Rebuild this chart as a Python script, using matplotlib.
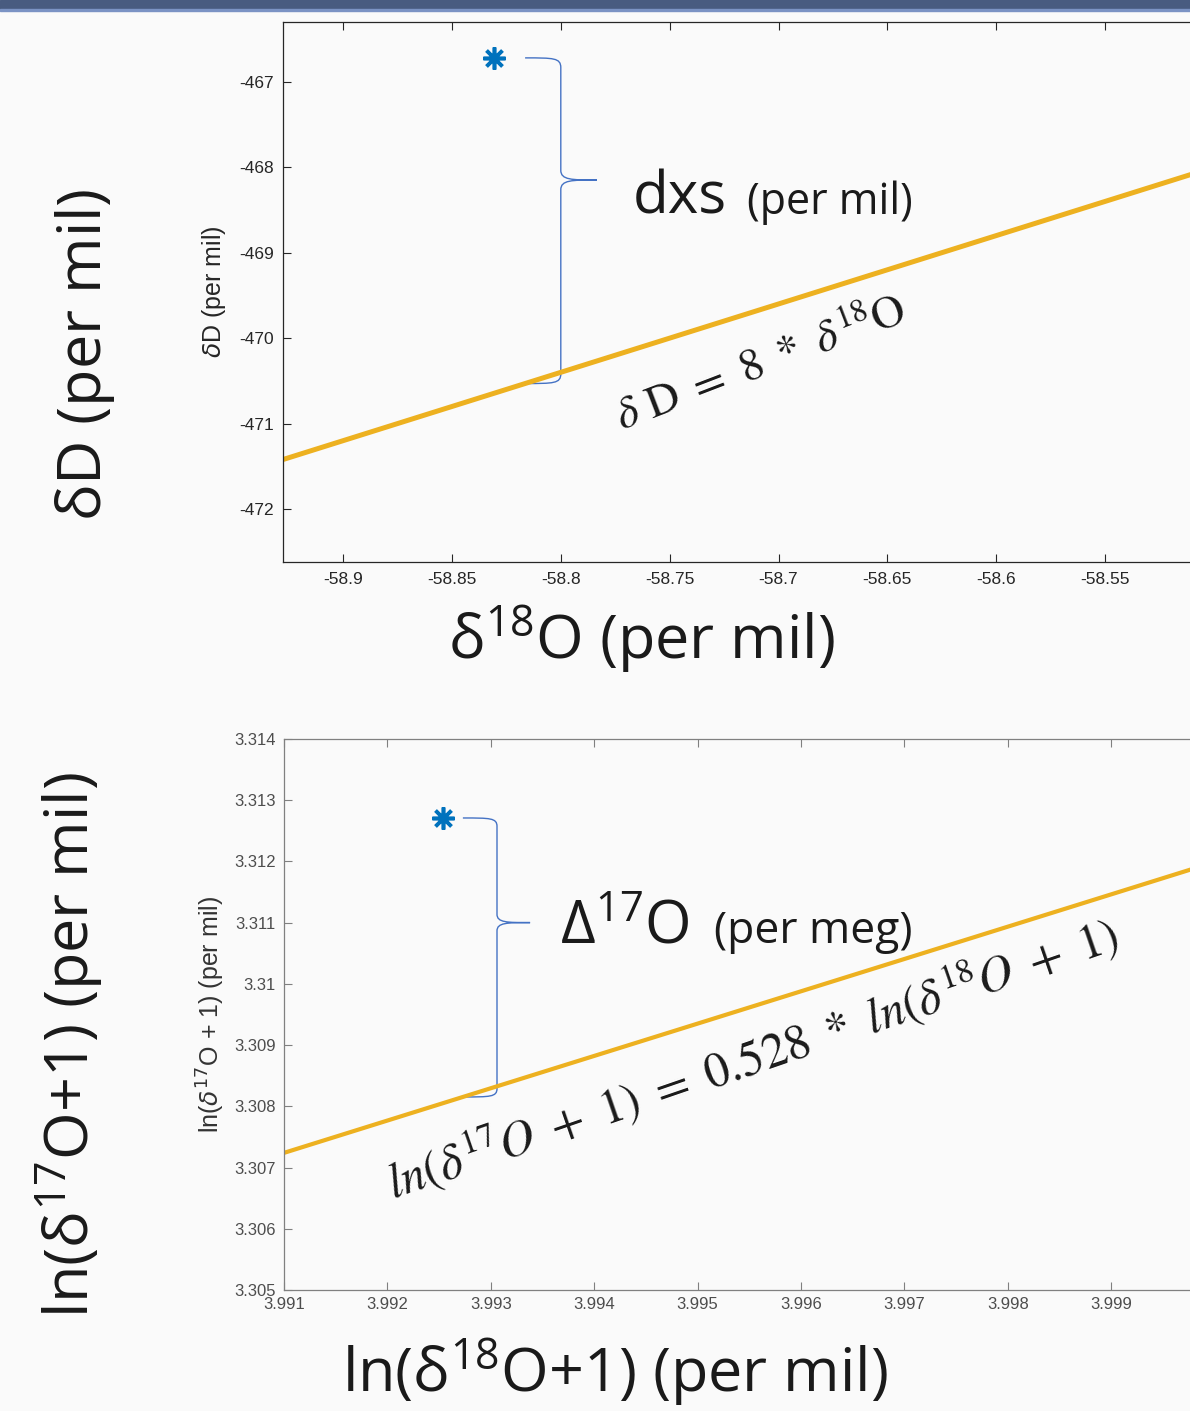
import matplotlib
matplotlib.use('Agg')
import matplotlib.pyplot as plt
from matplotlib.path import Path
from matplotlib.patches import PathPatch, Rectangle
import numpy as np

# ---- top panel: dD vs d18O ----
d18o_line = [-58.93, -58.51]
dd_line = [-471.44, -468.08]
d18o_star = [-58.8306]
dd_star = [-466.72]
top_xticks = [-58.9, -58.85, -58.8, -58.75, -58.7, -58.65, -58.6, -58.55]
top_xlabels = ['-58.9', '-58.85', '-58.8', '-58.75', '-58.7', '-58.65', '-58.6', '-58.55']
top_yticks = [-472, -471, -470, -469, -468, -467]
top_ylabels = ['-472', '-471', '-470', '-469', '-468', '-467']
top_xlim = (-58.9276, -58.5064)
top_ylim = (-472.62, -466.30)
top_brace_x = (-58.8164, -58.80, -58.7834)   # start, spine, tip

# ---- bottom panel: ln(d17O+1) vs ln(d18O+1) ----
ln18_line = [3.991, 4.000]
ln17_line = [3.30724, 3.31199]
ln18_star = [3.99254]
ln17_star = [3.31271]
bot_xticks = [3.991, 3.992, 3.993, 3.994, 3.995, 3.996, 3.997, 3.998, 3.999]
bot_xlabels = ['3.991', '3.992', '3.993', '3.994', '3.995', '3.996', '3.997', '3.998', '3.999']
bot_yticks = [3.305, 3.306, 3.307, 3.308, 3.309, 3.310, 3.311, 3.312, 3.313, 3.314]
bot_ylabels = ['3.305', '3.306', '3.307', '3.308', '3.309', '3.31', '3.311', '3.312', '3.313', '3.314']
bot_xlim = (3.991, 3.999859)
bot_ylim = (3.305, 3.314)
bot_brace_x = (3.99273, 3.99306, 3.99338)

W, H = 1190, 1411
BG = '#fafafa'
LINE_C = '#edb120'
STAR_C = '#0072bd'
BRACE_C = '#4472c4'
INK = '#1a1a1a'

plt.rcParams['axes.unicode_minus'] = False
plt.rcParams['mathtext.fontset'] = 'custom'
plt.rcParams['mathtext.rm'] = 'Open Sans'
plt.rcParams['mathtext.it'] = 'Open Sans:italic'
plt.rcParams['mathtext.bf'] = 'Open Sans:bold'


def px(x, y):
    return x / W, 1 - y / H


def brace(ax, xs, ytop, ybot, frac=0.375):
    x0, xv, xt = xs
    ytip = ytop - frac * (ytop - ybot)
    r = 0.03 * (ytop - ybot)
    dx = xv - x0
    dt = xt - xv
    verts = [(x0, ytop), (x0 + 0.8 * dx, ytop), (xv, ytop), (xv, ytop - r),
             (xv, ytip + r),
             (xv, ytip), (xv + 0.3 * dt, ytip), (xt, ytip),
             (xv + 0.3 * dt, ytip), (xv, ytip), (xv, ytip - r),
             (xv, ybot + r),
             (xv, ybot), (x0 + 0.8 * dx, ybot), (x0, ybot)]
    C = Path.CURVE4
    codes = [Path.MOVETO, C, C, C, Path.LINETO, C, C, C, C, C, C,
             Path.LINETO, C, C, C]
    ax.add_patch(PathPatch(Path(verts, codes), fill=False, color=BRACE_C,
                           lw=1.0, clip_on=False))


def style_axes(ax, color, lab_color, size, xpad, ypad):
    ax.set_facecolor(BG)
    for s in ax.spines.values():
        s.set_color(color)
        s.set_linewidth(0.9)
    ax.tick_params(direction='in', length=6, width=0.8, top=True, right=True,
                   color=color, labelcolor=lab_color, labelsize=size)
    ax.tick_params(axis='x', pad=xpad)
    ax.tick_params(axis='y', pad=ypad)
    for t in ax.get_xticklabels() + ax.get_yticklabels():
        t.set_fontfamily('Liberation Sans')


fig = plt.figure(figsize=(W / 100, H / 100), dpi=100, facecolor=BG)

# title bar strip at the very top
fig.patches.append(Rectangle(px(0, 10), 1, 10 / H, transform=fig.transFigure,
                             color='#485b80', zorder=5))
fig.patches.append(Rectangle(px(0, 11), 1, 1.5 / H, transform=fig.transFigure,
                             color='#7b93c4', zorder=5))

# ---- top panel ----
ax1 = fig.add_axes([283 / W, 1 - 562 / H, (1200 - 283) / W, 540 / H])
ax1.plot(d18o_line, dd_line, color=LINE_C, lw=3.6, solid_capstyle='butt')
ax1.plot(d18o_star, dd_star, ls='none', marker=(8, 2, 0), ms=16, mew=2.6,
         color=STAR_C)
ax1.set_xlim(top_xlim)
ax1.set_ylim(top_ylim)
ax1.set_xticks(top_xticks, top_xlabels)
ax1.set_yticks(top_yticks, top_ylabels)
style_axes(ax1, '#262626', '#262626', 12.5, 7, 6.5)
ax1.set_ylabel(r'$\delta$D (per mil)', fontsize=18, color='#262626',
               fontfamily='Liberation Sans', math_fontfamily='dejavusans')
ax1.yaxis.set_label_coords(-0.060, 0.5)
brace(ax1, top_brace_x, dd_star[0],
      np.interp(top_brace_x[0], d18o_line, dd_line))

# ---- bottom panel ----
ax2 = fig.add_axes([284 / W, 1 - 1290 / H, (1200 - 284) / W, 551 / H])
ax2.plot(ln18_line, ln17_line, color=LINE_C, lw=3.0, solid_capstyle='butt')
ax2.plot(ln18_star, ln17_star, ls='none', marker=(8, 2, 0), ms=16, mew=2.6,
         color=STAR_C)
ax2.set_xlim(bot_xlim)
ax2.set_ylim(bot_ylim)
ax2.set_xticks(bot_xticks, bot_xlabels)
ax2.set_yticks(bot_yticks, bot_ylabels)
style_axes(ax2, '#808080', '#4d4d4d', 12, 5, 6)
ax2.set_ylabel(r'ln($\delta^{17}$O + 1) (per mil)', fontsize=18, color='#333333',
               fontfamily='Liberation Sans', math_fontfamily='dejavusans')
ax2.yaxis.set_label_coords(-0.062, 0.5)
brace(ax2, bot_brace_x, ln17_star[0],
      np.interp(bot_brace_x[0], ln18_line, ln17_line))

# ---- slide-level labels ----
big = dict(color=INK, fontfamily='Open Sans')
fig.text(*px(85, 355), r'$\mathrm{δ}$D (per mil)', fontsize=44, rotation=90,
         ha='center', va='center', **big)
fig.text(*px(641, 640), r'$\mathrm{δ^{18}O}$ (per mil)', fontsize=44,
         ha='center', va='center', **big)
fig.text(*px(70, 1045), r'ln($\mathrm{δ^{17}O}$+1) (per mil)', fontsize=44,
         rotation=90, ha='center', va='center', **big)
fig.text(*px(615, 1373), r'ln($\mathrm{δ^{18}O}$+1) (per mil)', fontsize=44,
         ha='center', va='center', **big)

# annotations
fig.text(*px(633, 214), 'dxs', fontsize=42, ha='left', va='baseline', **big)
fig.text(*px(747, 214), '(per mil)', fontsize=31, ha='left', va='baseline', **big)
fig.text(*px(560, 943), r'$\mathrm{Δ^{17}O}$', fontsize=43, ha='left',
         va='baseline', **big)
fig.text(*px(714, 943), '(per meg)', fontsize=32, ha='left', va='baseline', **big)

fig.text(*px(622, 430),
         r'$\delta\ \mathrm{D}\ =\ 8\ *\ \delta^{18}\mathrm{O}$',
         fontsize=33, rotation=21, rotation_mode='anchor', ha='left',
         va='baseline', color=INK, math_fontfamily='stix')
fig.text(*px(393, 1200),
         r'$\mathit{ln}(\delta^{17}\mathit{O}\ +\ \mathit{1})\ =\ \mathit{0.528}\ *\ '
         r'\mathit{ln}(\delta^{18}\mathit{O}\ +\ \mathit{1})$',
         fontsize=35, rotation=19, rotation_mode='anchor', ha='left',
         va='baseline', color=INK, math_fontfamily='stix')

fig.savefig('out.png', dpi=100, facecolor=BG)
